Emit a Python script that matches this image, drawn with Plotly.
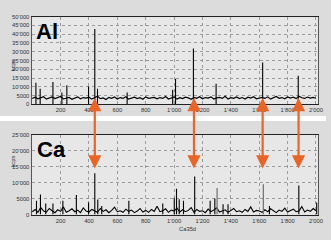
import plotly.graph_objects as go

# ---------------- data ----------------
base_x = list(range(0, 2001, 20))

al_base = [
    3400, 4100, 3200, 3900, 4400, 3000, 3600, 4200, 3300, 3800,
    4500, 3100, 3700, 4000, 2900, 3500, 4300, 3200, 3900, 3600,
    4100, 3000, 3800, 4600, 3300, 3700, 2800, 4000, 3500, 4200,
    3100, 3900, 3400, 4400, 3000, 3600, 4100, 3300, 3800, 2900,
    4300, 3500, 3700, 4000, 3200, 3900, 3400, 4500, 3100, 3600,
    4200, 3000, 3800, 3300, 4100, 3700, 2900, 4000, 3500, 4400,
    3200, 3900, 3600, 4300, 3100, 3700, 4000, 3400, 4600, 3000,
    3800, 3500, 4200, 3300, 3900, 3100, 4100, 3600, 4400, 3200,
    3700, 4000, 3400, 4300, 3000, 3800, 4500, 3500, 3900, 3200,
    4200, 3600, 4100, 3300, 4700, 3800, 3400, 4200, 3600, 4000, 3500]

ca_base = [
    900, 1600, 700, 2200, 1100, 800, 1900, 1300, 600, 1500,
    1000, 2400, 700, 1200, 1800, 900, 1400, 600, 2100, 1100,
    800, 1600, 1200, 700, 1900, 1000, 1500, 600, 1300, 2300,
    900, 1200, 700, 1700, 1000, 1400, 600, 1100, 1900, 800,
    1300, 700, 1600, 1000, 2600, 900, 1200, 1800, 700, 1400,
    1100, 2000, 800, 1500, 900, 1300, 2200, 700, 1600, 1000,
    1200, 600, 1700, 900, 1400, 2100, 800, 1100, 1500, 700,
    1300, 1900, 900, 1200, 700, 1600, 1000, 2400, 800, 1300,
    1100, 700, 1500, 900, 1800, 1200, 600, 1400, 1000, 2000,
    800, 1300, 1700, 900, 1100, 2500, 800, 1400, 1000, 1900, 1200]

al_peak_x = [26, 56, 146, 209, 244, 397, 441, 460, 669, 990, 1010, 1136, 1296, 1624, 1875]
al_peak_y = [12400, 8900, 12800, 6800, 10900, 10200, 43000, 8900, 6800, 8300, 14600, 31800, 11800, 23900, 16300]

ca_peak_x = [30, 58, 95, 146, 216, 311, 397, 441, 462, 490, 681, 920, 1001, 1017,
             1036, 1066, 1145, 1254, 1287, 1345, 1380, 1672, 1879, 2005]
ca_peak_y = [4300, 6300, 3500, 3500, 4300, 6100, 3750, 12900, 4750, 2700, 4300, 3500, 5300, 8100,
             4800, 4300, 11900, 4300, 5000, 3200, 3200, 2700, 9100, 3750]
ca_gray_x = [1303, 1629]
ca_gray_y = [8300, 9500]

arrow_x = [441, 1140, 1624, 1877]
arrow_y_ca = 14400

x_tickvals = [200, 400, 600, 800, 1000, 1200, 1400, 1600, 1800, 2000]
x_ticktext = ["200", "400", "600", "800", "1'000", "1'200", "1'400", "1'600", "1'800", "2'000"]
al_tickvals = [0, 5000, 10000, 15000, 20000, 25000, 30000, 35000, 40000, 45000, 50000]
al_ticktext = ["0", "5000", "10'000", "15'000", "20'000", "25'000", "30'000", "35'000", "40'000", "45'000", "50'000"]
ca_tickvals = [0, 5000, 10000, 15000, 20000, 25000]
ca_ticktext = ["0", "5000", "10'000", "15'000", "20'000", "25'000"]


def segs(xs, ys):
    sx, sy = [], []
    for a, b in zip(xs, ys):
        sx += [a, a, None]
        sy += [0, b, None]
    return sx, sy


W, H = 331, 240
FONT = "Liberation Sans, Arial, sans-serif"
TF = dict(size=5.8, color="#333333", family=FONT)

fig = go.Figure()
fig.add_trace(go.Scatter(x=base_x, y=al_base, mode="lines", line=dict(color="black", width=1.2),
                         xaxis="x", yaxis="y", showlegend=False))
px_, py_ = segs(al_peak_x, al_peak_y)
fig.add_trace(go.Scatter(x=px_, y=py_, mode="lines", line=dict(color="black", width=1.1),
                         xaxis="x", yaxis="y", showlegend=False))
fig.add_trace(go.Scatter(x=base_x, y=ca_base, mode="lines", line=dict(color="black", width=1.1),
                         xaxis="x2", yaxis="y2", showlegend=False))
px_, py_ = segs(ca_peak_x, ca_peak_y)
fig.add_trace(go.Scatter(x=px_, y=py_, mode="lines", line=dict(color="black", width=1.1),
                         xaxis="x2", yaxis="y2", showlegend=False))
px_, py_ = segs(ca_gray_x, ca_gray_y)
fig.add_trace(go.Scatter(x=px_, y=py_, mode="lines", line=dict(color="#777777", width=1.3),
                         xaxis="x2", yaxis="y2", showlegend=False))

xdom = [32 / W, 323 / W]
common_x = dict(range=[-5, 2015], tickvals=x_tickvals, ticktext=x_ticktext,
                showgrid=True, gridcolor="#9c9c9c", gridwidth=0.6, griddash="dot",
                showline=True, linecolor="#222222", linewidth=1.2, mirror=True,
                ticks="", tickfont=TF, ticklabelstandoff=0,
                zeroline=False, fixedrange=True, domain=xdom)
common_y = dict(showgrid=True, gridcolor="#9c9c9c", gridwidth=0.6, griddash="dot",
                showline=True, linecolor="#555555", linewidth=1, mirror=True,
                ticks="", tickfont=TF, ticklabelstandoff=0,
                zeroline=False, fixedrange=True)

fig.update_layout(
    width=W, height=H,
    margin=dict(l=0, r=0, t=0, b=0),
    paper_bgcolor="#dcdcdc",
    plot_bgcolor="#e7e7e7",
    showlegend=False,
    xaxis=dict(anchor="y", **common_x),
    yaxis=dict(anchor="x", range=[0, 50000], tickvals=al_tickvals, ticktext=al_ticktext,
               domain=[1 - 104 / H, 1 - 14 / H], **common_y),
    xaxis2=dict(anchor="y2", **common_x),
    yaxis2=dict(anchor="x2", range=[0, 25000], tickvals=ca_tickvals, ticktext=ca_ticktext,
                domain=[1 - 217 / H, 1 - 135 / H], **common_y),
    shapes=[dict(type="rect", xref="paper", yref="paper", x0=0, x1=1,
                 y0=1 - 121 / H, y1=1 - 116 / H, fillcolor="white", line=dict(width=0),
                 layer="below")],
)

ann = [
    dict(text="<b>Al</b>", xref="paper", yref="paper", x=35 / W, y=1 - 14 / H,
         xanchor="left", yanchor="top", showarrow=False,
         font=dict(size=22, color="black", family=FONT)),
    dict(text="<b>Ca</b>", xref="paper", yref="paper", x=36 / W, y=1 - 135 / H,
         xanchor="left", yanchor="top", showarrow=False,
         font=dict(size=22, color="black", family=FONT)),
    dict(text="kcps", xref="paper", yref="paper", x=8 / W, y=1 - 56 / H, textangle=-90,
         showarrow=False, font=TF),
    dict(text="kcps", xref="paper", yref="paper", x=8 / W, y=1 - 171 / H, textangle=-90,
         showarrow=False, font=TF),
    dict(text="Ca35d", xref="paper", yref="paper", x=190 / W, y=1 - 236 / H,
         yanchor="bottom", showarrow=False, font=TF, borderpad=0),
]
for ax_ in arrow_x:
    ann.append(dict(x=ax_, y=arrow_y_ca, xref="x2", yref="y2", ax=0, ay=-72,
                    text="", showarrow=True, arrowside="end+start",
                    arrowhead=2, startarrowhead=2, arrowsize=1.2, startarrowsize=1.2,
                    arrowwidth=2.2, arrowcolor="#e8652a"))
fig.update_layout(annotations=ann)

fig.write_html("out.html")
